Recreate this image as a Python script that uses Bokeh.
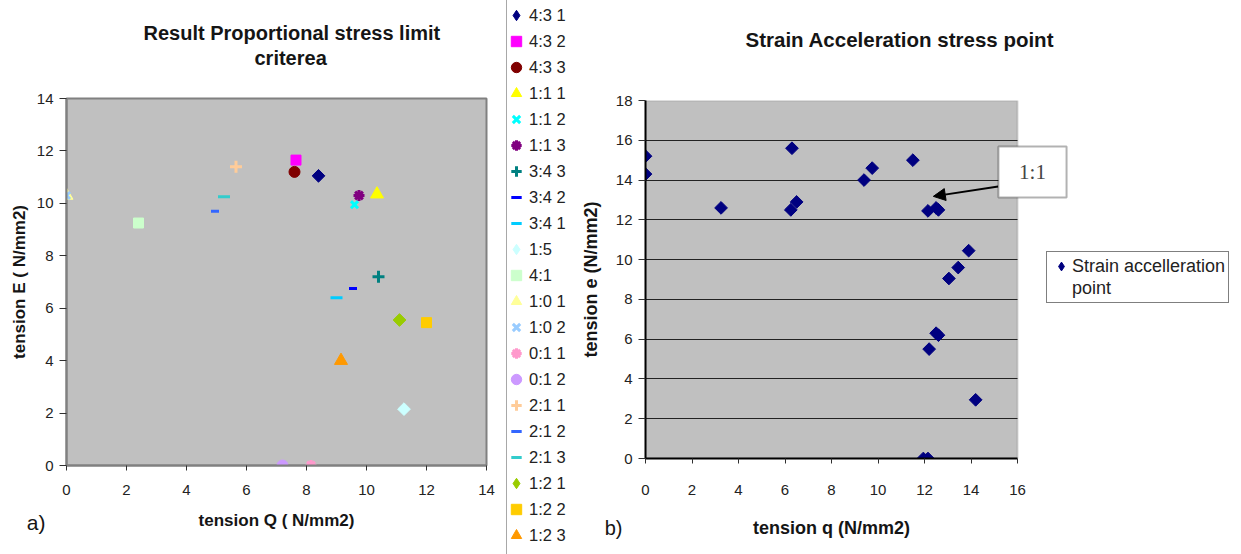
from math import pi

from bokeh.embed import file_html
from bokeh.layouts import column, row
from bokeh.models import (Arrow, BoxAnnotation, Div, FixedTicker, Grid, Label,
                          Legend, LegendItem, NormalHead, Range1d, Title)
from bokeh.plotting import figure
from bokeh.resources import INLINE

# ---- panel a): proportional stress limit per loading ratio ----
ratio_labels = ["4:3 1", "4:3 2", "4:3 3", "1:1 1", "1:1 2", "1:1 3",
                "3:4 3", "3:4 2", "3:4 1", "1:5", "4:1", "1:0 1", "1:0 2",
                "0:1 1", "0:1 2", "2:1 1", "2:1 2", "2:1 3", "1:2 1",
                "1:2 2", "1:2 3"]
tension_Q = [8.4, 7.65, 7.6, 10.35, 9.6, 9.75, 10.4, 9.55, 9.0, 11.25, 2.4,
             0.0, 0.0, 8.15, 7.2, 5.65, 4.95, 5.25, 11.1, 12.0, 9.15]
tension_E = [11.05, 11.65, 11.2, 10.35, 9.95, 10.3, 7.2, 6.75, 6.4, 2.15,
             9.25, 10.3, 10.3, 0.0, 0.0, 11.4, 9.7, 10.25, 5.55, 5.45, 4.0]

# ---- panel b): strain acceleration points ----
tension_q = [0.0, 0.0, 3.25, 6.3, 6.25, 6.5, 9.4, 9.75, 11.5, 12.15, 12.5,
             12.6, 13.05, 13.45, 13.9, 12.5, 12.6, 12.2, 14.2, 11.95, 12.15]
tension_e = [15.2, 14.3, 12.6, 15.6, 12.5, 12.9, 14.0, 14.6, 15.0, 12.45,
             12.6, 12.5, 9.05, 9.6, 10.45, 6.3, 6.2, 5.5, 2.95, 0.0, 0.0]

ticks_Q = list(range(0, 15, 2))
ticks_E = list(range(0, 15, 2))
ticks_q = list(range(0, 17, 2))
ticks_e = list(range(0, 19, 2))

# callout pointing at the 1:1 group (data units of panel b)
callout_text = "1:1"
callout_from = (15.17, 13.68)
callout_to = (12.38, 13.18)
callout_box = dict(left=15.18, right=18.11, bottom=13.12, top=15.69)

# marker style per series: (marker, colour, size, line width, rotated)
styles = {
    "4:3 1": ("square", "#000080", 9, 1, True),
    "4:3 2": ("square", "#FF00FF", 10, 1, False),
    "4:3 3": ("circle", "#800000", 11, 1, False),
    "1:1 1": ("triangle", "#FFFF00", 13, 1, False),
    "1:1 2": ("x", "#00FFFF", 10, 3, False),
    "1:1 3": ("asterisk", "#800080", 11, 3, False),
    "3:4 3": ("cross", "#008080", 12, 3, False),
    "3:4 2": ("dash", "#0000FF", 8, 3, False),
    "3:4 1": ("dash", "#00CCFF", 12, 3, False),
    "1:5": ("square", "#CCFFFF", 9, 1, True),
    "4:1": ("square", "#CCFFCC", 10, 1, False),
    "1:0 1": ("triangle", "#FFFF99", 13, 1, False),
    "1:0 2": ("x", "#99CCFF", 10, 3, False),
    "0:1 1": ("asterisk", "#FF99CC", 11, 3, False),
    "0:1 2": ("circle", "#CC99FF", 11, 1, False),
    "2:1 1": ("cross", "#FFCC99", 12, 3, False),
    "2:1 2": ("dash", "#3366FF", 8, 3, False),
    "2:1 3": ("dash", "#33CCCC", 12, 3, False),
    "1:2 1": ("square", "#99CC00", 9, 1, True),
    "1:2 2": ("square", "#FFCC00", 10, 1, False),
    "1:2 3": ("triangle", "#FF9900", 13, 1, False),
}

FONT = "Liberation Sans"
INK = "#151515"
PLOT_BG = "#C0C0C0"
EDGE = "#808080"

# page geometry (pixels)
H_TOP, H_FOOT = 505, 49
A_W, KEY_W, B_W = 506, 68, 666
B_LEFT, B_PLOT_W = 70, 372


def style_axis(ax, line_color, tick_out, label_standoff, title_standoff,
               title_size):
    ax.axis_line_color = line_color
    ax.axis_line_width = 2
    ax.major_tick_line_color = "#303030"
    ax.major_tick_out = tick_out
    ax.major_tick_in = 0
    ax.minor_tick_line_color = None
    ax.major_label_text_font = FONT
    ax.major_label_text_font_size = "15px"
    ax.major_label_text_color = "#222222"
    ax.major_label_standoff = label_standoff
    ax.axis_label_text_font = FONT
    ax.axis_label_text_font_size = title_size
    ax.axis_label_text_font_style = "bold"
    ax.axis_label_text_color = INK
    ax.axis_label_standoff = title_standoff


def marker_kwargs(name, swatch=False):
    marker, color, size, lw, rotated = styles[name]
    if rotated and swatch:
        return dict(marker="diamond", size=size, line_color=color,
                    line_width=lw, fill_color=color)
    return dict(marker=marker, size=size, line_color=color, line_width=lw,
                fill_color=color, angle=pi / 4 if rotated else 0.0)


def heading(text, offset, standoff, size="20px"):
    return Title(text=text, align="left", offset=offset, vertical_align="top",
                 standoff=standoff, text_font=FONT, text_font_size=size,
                 text_font_style="bold", text_color=INK)


def bare(p):
    p.outline_line_color = None
    p.grid.visible = False
    p.background_fill_color = "white"
    p.border_fill_color = "white"


def footer(x_range, width, border_left, border_right, border_bottom,
           tag, tag_size, tag_standoff, axis_title, title_size, title_y):
    """Strip under a chart: the panel tag sits left of the frame, the axis
    title is centred under the axis."""
    f = figure(width=width, height=H_FOOT, x_range=x_range, y_range=(0, 1),
               output_backend="svg", toolbar_location=None,
               x_axis_location=None, min_border_left=border_left,
               min_border_right=border_right, min_border_top=0,
               min_border_bottom=border_bottom)
    bare(f)
    ax = f.yaxis[0]
    ax.ticker = FixedTicker(ticks=[])
    ax.axis_line_color = None
    ax.major_tick_line_color = None
    ax.minor_tick_line_color = None
    ax.major_tick_out = 0
    ax.major_label_standoff = 0
    ax.axis_label = tag
    ax.axis_label_orientation = "horizontal"
    ax.axis_label_standoff = tag_standoff
    ax.axis_label_text_font = FONT
    ax.axis_label_text_font_size = tag_size
    ax.axis_label_text_font_style = "normal"
    ax.axis_label_text_color = INK
    f.add_layout(Label(x=axis_title[1], y=title_y, text=axis_title[0],
                       text_font=FONT, text_font_size=title_size,
                       text_font_style="bold", text_color=INK,
                       text_align="center", text_baseline="middle"))
    return f


# ---------------- left chart ----------------
left = figure(width=A_W, height=H_TOP, x_range=(0, 14), y_range=(0, 14),
              output_backend="svg", toolbar_location=None,
              min_border_left=66, min_border_right=20,
              min_border_top=98, min_border_bottom=H_TOP - 465)
left.background_fill_color = PLOT_BG
left.border_fill_color = "white"
left.outline_line_color = EDGE
left.outline_line_width = 2
left.grid.visible = False
left.xaxis.ticker = FixedTicker(ticks=ticks_Q)
left.yaxis.ticker = FixedTicker(ticks=ticks_E)
left.yaxis.axis_label = "tension E ( N/mm2)"
style_axis(left.xaxis[0], EDGE, 5, 14, 0, "17px")
style_axis(left.yaxis[0], EDGE, 7, 6, 5, "17px")

for name, q, e in zip(ratio_labels, tension_Q, tension_E):
    left.scatter(x=[q], y=[e], **marker_kwargs(name))

# two-line heading, stacked outward from the frame
left.add_layout(heading(" ", 0, 2.5), "above")
left.add_layout(heading("criterea", 188, 1), "above")
left.add_layout(heading("Result Proportional stress limit", 77, 1), "above")

foot_a = footer(left.x_range, A_W, 66, 20, 15, "a)", "21px", 21,
                ("tension Q ( N/mm2)", (ticks_Q[0] + ticks_Q[-1]) / 2),
                "17px", 0.56)

# ---------------- separator + series key ----------------
divider = Div(width=1, height=H_TOP + H_FOOT, margin=0,
              styles={"background-color": "#a8a8a8"})

key = figure(width=KEY_W, height=H_TOP + H_FOOT, x_range=(0, 14),
             y_range=(0, 14), output_backend="svg", toolbar_location=None,
             x_axis_location=None, y_axis_location=None, min_border=0,
             min_border_left=0, min_border_right=0, min_border_top=0,
             min_border_bottom=0)
bare(key)
key_items = []
for name, q, e in zip(ratio_labels, tension_Q, tension_E):
    # swatch source only; the strip itself shows no data
    r = key.scatter(x=[q], y=[e], visible=False,
                    **marker_kwargs(name, swatch=True))
    key_items.append(LegendItem(label=name, renderers=[r]))
key.add_layout(Legend(items=key_items, location=(-4, 6), margin=0, padding=0,
                      spacing=0, glyph_width=26, glyph_height=26,
                      label_height=26, label_standoff=0,
                      label_text_font=FONT, label_text_font_size="16.5px",
                      label_text_color="#222222", inactive_fill_alpha=0,
                      border_line_color=None, background_fill_alpha=0))

# ---------------- right chart ----------------
# the frame runs on to the right edge so the key box and callout sit inside it
x_end = ticks_q[-1] * (B_W - B_LEFT) / B_PLOT_W
right = figure(width=B_W, height=H_TOP, x_range=Range1d(0, x_end),
               y_range=(0, 18), output_backend="svg", toolbar_location=None,
               min_border_left=B_LEFT, min_border_right=0,
               min_border_top=100, min_border_bottom=H_TOP - 458)
bare(right)
right.add_layout(BoxAnnotation(left=ticks_q[0], right=ticks_q[-1],
                               bottom=ticks_e[0], top=ticks_e[-1],
                               fill_color=PLOT_BG, fill_alpha=1,
                               line_color=EDGE, line_width=2, level="image"))
ygrid = Grid(dimension=1, ticker=FixedTicker(ticks=ticks_e[1:-1]),
             grid_line_color="#222222", grid_line_width=1)
if "cross_bounds" in Grid.properties():
    ygrid.cross_bounds = (ticks_q[0], ticks_q[-1])
    right.add_layout(ygrid)
else:
    right.segment(x0=ticks_q[0], x1=ticks_q[-1], y0=ticks_e[1:-1],
                  y1=ticks_e[1:-1], line_color="#222222", line_width=1)
right.xaxis.ticker = FixedTicker(ticks=ticks_q)
right.xaxis.bounds = (ticks_q[0], ticks_q[-1])
right.yaxis.ticker = FixedTicker(ticks=ticks_e)
right.yaxis.axis_label = "tension e (N/mm2)"
style_axis(right.xaxis[0], "#000000", 5, 21, 0, "18px")
style_axis(right.yaxis[0], "#000000", 7, 6, 12, "18px")

pts = right.scatter(x=tension_q, y=tension_e, marker="square", angle=pi / 4,
                    size=9, color="#000080")

right.add_layout(Arrow(x_start=callout_from[0], y_start=callout_from[1],
                       x_end=callout_to[0], y_end=callout_to[1],
                       line_color="black", line_width=2,
                       end=NormalHead(size=12, fill_color="black",
                                      line_color="black")))
right.add_layout(BoxAnnotation(fill_color="white", fill_alpha=1,
                               line_color="black", line_width=2,
                               **callout_box))
right.add_layout(Label(x=(callout_box["left"] + callout_box["right"]) / 2,
                       y=(callout_box["bottom"] + callout_box["top"]) / 2,
                       text=callout_text, text_font="Liberation Serif",
                       text_font_size="21px", text_color="#444444",
                       text_align="center", text_baseline="middle"))

# key box for the points: a diamond swatch drawn from the same values
swatch = right.scatter(x=tension_q, y=tension_e, marker="diamond", size=9,
                       color="#000080", visible=False)
blank = right.scatter(x=[], y=[])
right.add_layout(Legend(items=[LegendItem(label="Strain accelleration",
                                          renderers=[swatch]),
                               LegendItem(label="point", renderers=[blank])],
                        location=(401, 155), margin=0, padding=3, spacing=0,
                        glyph_width=22, glyph_height=22, label_height=19,
                        label_standoff=0, label_text_font=FONT,
                        label_text_font_size="18px",
                        label_text_color="#222222", inactive_fill_alpha=0,
                        border_line_color="black", border_line_width=1,
                        background_fill_color="white"))

right.add_layout(heading(" ", 0, 23.7), "above")
right.add_layout(heading("Strain Acceleration stress point", 100, 0,
                         "20.5px"), "above")

foot_b = footer(right.x_range, B_W, B_LEFT, 0, 5, "b)", "20px", 23,
                ("tension q (N/mm2)", (ticks_q[0] + ticks_q[-1]) / 2),
                "18px", 0.5)

layout = row(column(left, foot_a), divider, column(key),
             column(right, foot_b))
open("out.html", "w").write(file_html(layout, INLINE))
